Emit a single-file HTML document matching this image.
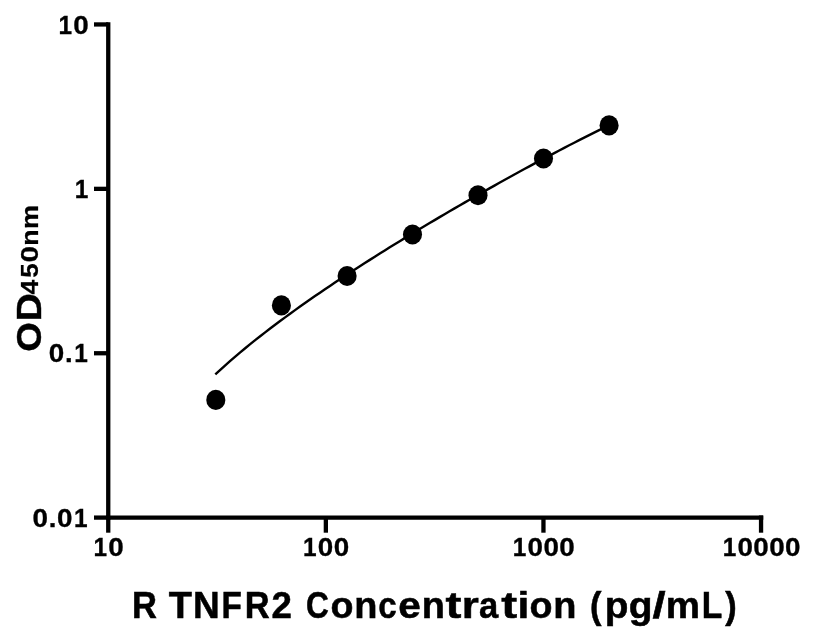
<!DOCTYPE html>
<html><head><meta charset="utf-8"><style>
html,body{margin:0;padding:0;background:#fff;}
svg{display:block;will-change:transform;}
text{font-family:"Liberation Sans",sans-serif;font-weight:bold;fill:#000;stroke:#000;stroke-width:0.35px;}
</style></head><body>
<svg width="816" height="640" viewBox="0 0 816 640">
<rect width="816" height="640" fill="#fff"/>
<g stroke="#000" stroke-width="4.3" fill="none" stroke-linecap="butt">
<path d="M108.25,22.3 V519.75"/>
<path d="M106.1,517.6 H763.25"/>
<path d="M94,24.45 H108.25"/>
<path d="M94,188.85 H108.25"/>
<path d="M94,353.25 H108.25"/>
<path d="M94,517.6 H108.25"/>
<path d="M108.25,517.6 V532.7"/>
<path d="M325.85,517.6 V532.7"/>
<path d="M543.45,517.6 V532.7"/>
<path d="M761.05,515.45 V532.7"/>
</g>
<path d="M215.30,374.36 L220.28,369.76 L225.27,365.27 L230.25,360.88 L235.24,356.58 L240.22,352.36 L245.21,348.22 L250.19,344.16 L255.18,340.16 L260.16,336.22 L265.15,332.34 L270.13,328.52 L275.12,324.75 L280.10,321.02 L285.09,317.35 L290.07,313.71 L295.06,310.12 L300.04,306.56 L305.03,303.04 L310.01,299.55 L315.00,296.10 L319.98,292.68 L324.97,289.28 L329.95,285.92 L334.94,282.58 L339.92,279.26 L344.91,275.98 L349.89,272.71 L354.87,269.47 L359.86,266.25 L364.84,263.05 L369.83,259.87 L374.81,256.71 L379.80,253.56 L384.78,250.44 L389.77,247.33 L394.75,244.25 L399.74,241.17 L404.72,238.12 L409.71,235.08 L414.69,232.05 L419.68,229.04 L424.66,226.05 L429.65,223.07 L434.63,220.10 L439.62,217.15 L444.60,214.21 L449.59,211.29 L454.57,208.38 L459.56,205.48 L464.54,202.60 L469.53,199.73 L474.51,196.87 L479.49,194.03 L484.48,191.20 L489.46,188.39 L494.45,185.59 L499.43,182.80 L504.42,180.03 L509.40,177.27 L514.39,174.52 L519.37,171.79 L524.36,169.07 L529.34,166.37 L534.33,163.68 L539.31,161.00 L544.30,158.35 L549.28,155.70 L554.27,153.08 L559.25,150.46 L564.24,147.87 L569.22,145.29 L574.21,142.73 L579.19,140.18 L584.18,137.65 L589.16,135.14 L594.15,132.65 L599.13,130.18 L604.12,127.72 L609.10,125.28" stroke="#000" stroke-width="2.4" fill="none"/>
<g fill="#000">
<ellipse cx="215.8" cy="399.9" rx="9.55" ry="10.05"/>
<ellipse cx="281.4" cy="305.4" rx="9.55" ry="10.05"/>
<ellipse cx="347.1" cy="276" rx="9.55" ry="10.05"/>
<ellipse cx="412.5" cy="234.5" rx="9.55" ry="10.05"/>
<ellipse cx="478" cy="195.25" rx="9.55" ry="10.05"/>
<ellipse cx="543.5" cy="158.5" rx="9.55" ry="10.05"/>
<ellipse cx="609.1" cy="125.4" rx="9.55" ry="10.05"/>
</g>
<text transform="translate(57.330,33.700) scale(1.0640,1.0640)" font-size="24.0" y="0" style="stroke-width:0.3px"><tspan x="1.13" textLength="12.74" lengthAdjust="spacingAndGlyphs">1</tspan><tspan x="15.06" textLength="14.55" lengthAdjust="spacingAndGlyphs">0</tspan></text>
<text transform="translate(73.637,197.900) scale(1.0596,1.0596)" font-size="24.0" y="0" style="stroke-width:0.3px"><tspan x="1.14" textLength="12.80" lengthAdjust="spacingAndGlyphs">1</tspan></text>
<text transform="translate(48.565,362.300) scale(1.0838,1.0838)" font-size="24.0" y="0" style="stroke-width:0.3px"><tspan x="0.18" textLength="14.29" lengthAdjust="spacingAndGlyphs">0</tspan><tspan x="15.08" textLength="7.05" lengthAdjust="spacingAndGlyphs">.</tspan><tspan x="23.69" textLength="12.51" lengthAdjust="spacingAndGlyphs">1</tspan></text>
<text transform="translate(32.436,526.700) scale(1.0789,1.0789)" font-size="24.0" y="0" style="stroke-width:0.3px"><tspan x="0.18" textLength="14.35" lengthAdjust="spacingAndGlyphs">0</tspan><tspan x="15.15" textLength="7.08" lengthAdjust="spacingAndGlyphs">.</tspan><tspan x="22.86" textLength="14.35" lengthAdjust="spacingAndGlyphs">0</tspan><tspan x="38.47" textLength="12.57" lengthAdjust="spacingAndGlyphs">1</tspan></text>
<text transform="translate(92.232,556.300) scale(1.0640,1.0640)" font-size="24.0" y="0" style="stroke-width:0.3px"><tspan x="1.13" textLength="12.74" lengthAdjust="spacingAndGlyphs">1</tspan><tspan x="15.06" textLength="14.55" lengthAdjust="spacingAndGlyphs">0</tspan></text>
<text transform="translate(301.817,556.300) scale(1.0654,1.0654)" font-size="24.0" y="0" style="stroke-width:0.3px"><tspan x="1.13" textLength="12.73" lengthAdjust="spacingAndGlyphs">1</tspan><tspan x="15.04" textLength="14.53" lengthAdjust="spacingAndGlyphs">0</tspan><tspan x="29.89" textLength="14.53" lengthAdjust="spacingAndGlyphs">0</tspan></text>
<text transform="translate(511.552,556.300) scale(1.0662,1.0662)" font-size="24.0" y="0" style="stroke-width:0.3px"><tspan x="1.13" textLength="12.72" lengthAdjust="spacingAndGlyphs">1</tspan><tspan x="15.03" textLength="14.53" lengthAdjust="spacingAndGlyphs">0</tspan><tspan x="29.87" textLength="14.53" lengthAdjust="spacingAndGlyphs">0</tspan><tspan x="44.72" textLength="14.53" lengthAdjust="spacingAndGlyphs">0</tspan></text>
<text transform="translate(721.488,556.300) scale(1.0666,1.0666)" font-size="24.0" y="0" style="stroke-width:0.3px"><tspan x="1.13" textLength="12.71" lengthAdjust="spacingAndGlyphs">1</tspan><tspan x="15.02" textLength="14.52" lengthAdjust="spacingAndGlyphs">0</tspan><tspan x="29.86" textLength="14.52" lengthAdjust="spacingAndGlyphs">0</tspan><tspan x="44.70" textLength="14.52" lengthAdjust="spacingAndGlyphs">0</tspan><tspan x="59.55" textLength="14.52" lengthAdjust="spacingAndGlyphs">0</tspan></text>
<text transform="translate(130.880,617.800) scale(1.0429,1.0429)" font-size="35.6" y="0" style="stroke-width:0.5px"><tspan x="0.99" textLength="23.92" lengthAdjust="spacingAndGlyphs">R</tspan> <tspan x="36.42" textLength="22.27" lengthAdjust="spacingAndGlyphs">T</tspan><tspan x="59.52" textLength="25.64" lengthAdjust="spacingAndGlyphs">N</tspan><tspan x="87.00" textLength="19.52" lengthAdjust="spacingAndGlyphs">F</tspan><tspan x="109.24" textLength="23.92" lengthAdjust="spacingAndGlyphs">R</tspan><tspan x="134.88" textLength="19.55" lengthAdjust="spacingAndGlyphs">2</tspan> <tspan x="167.97" textLength="21.88" lengthAdjust="spacingAndGlyphs">C</tspan><tspan x="191.50" textLength="22.02" lengthAdjust="spacingAndGlyphs">o</tspan><tspan x="214.23" textLength="22.22" lengthAdjust="spacingAndGlyphs">n</tspan><tspan x="237.24" textLength="17.59" lengthAdjust="spacingAndGlyphs">c</tspan><tspan x="256.32" textLength="21.60" lengthAdjust="spacingAndGlyphs">e</tspan><tspan x="278.87" textLength="22.22" lengthAdjust="spacingAndGlyphs">n</tspan><tspan x="301.58" textLength="15.24" lengthAdjust="spacingAndGlyphs">t</tspan><tspan x="317.24" textLength="16.39" lengthAdjust="spacingAndGlyphs">r</tspan><tspan x="333.84" textLength="18.44" lengthAdjust="spacingAndGlyphs">a</tspan><tspan x="355.24" textLength="15.24" lengthAdjust="spacingAndGlyphs">t</tspan><tspan x="370.76" textLength="11.31" lengthAdjust="spacingAndGlyphs">i</tspan><tspan x="382.17" textLength="22.02" lengthAdjust="spacingAndGlyphs">o</tspan><tspan x="404.90" textLength="22.22" lengthAdjust="spacingAndGlyphs">n</tspan> <tspan x="440.20" textLength="10.97" lengthAdjust="spacingAndGlyphs">(</tspan><tspan x="454.32" textLength="22.73" lengthAdjust="spacingAndGlyphs">p</tspan><tspan x="477.31" textLength="22.77" lengthAdjust="spacingAndGlyphs">g</tspan><tspan x="500.19" textLength="12.55" lengthAdjust="spacingAndGlyphs">/</tspan><tspan x="512.98" textLength="32.84" lengthAdjust="spacingAndGlyphs">m</tspan><tspan x="547.40" textLength="19.70" lengthAdjust="spacingAndGlyphs">L</tspan><tspan x="569.84" textLength="10.97" lengthAdjust="spacingAndGlyphs">)</tspan></text>
<text transform="translate(40.900,352.060) rotate(-90) scale(1.0321,1.0321)" font-size="34.2" y="0" style="stroke-width:0.4px"><tspan x="0.19" textLength="28.72" lengthAdjust="spacingAndGlyphs">O</tspan><tspan x="29.66" textLength="27.63" lengthAdjust="spacingAndGlyphs">D</tspan></text>
<text transform="translate(37.950,295.050) rotate(-90) scale(1.0244,1.0244)" font-size="22.85" y="0" style="stroke-width:0.25px"><tspan x="0.64" textLength="14.41" lengthAdjust="spacingAndGlyphs">4</tspan><tspan x="16.95" textLength="14.07" lengthAdjust="spacingAndGlyphs">5</tspan><tspan x="31.88" textLength="16.10" lengthAdjust="spacingAndGlyphs">0</tspan><tspan x="48.09" textLength="15.95" lengthAdjust="spacingAndGlyphs">n</tspan><tspan x="64.38" textLength="23.58" lengthAdjust="spacingAndGlyphs">m</tspan></text>
</svg>
</body></html>
